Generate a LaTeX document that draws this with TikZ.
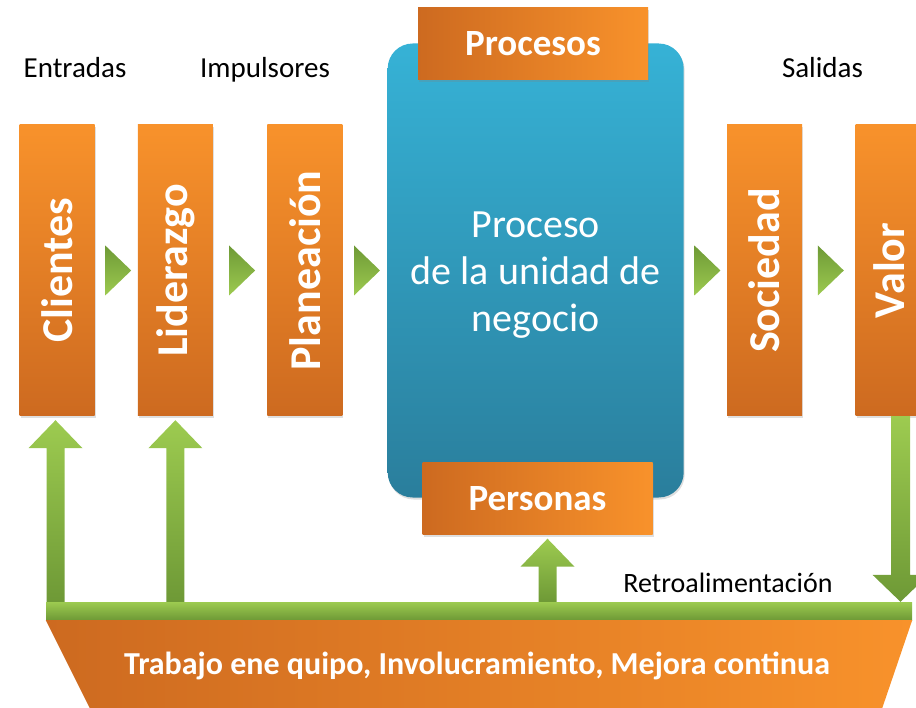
\documentclass[tikz,border=0pt]{standalone}
\usepackage{fontspec}
\setmainfont{Carlito}
\usetikzlibrary{positioning, calc, shadows}

\definecolor{naranjaclaro}{HTML}{F8922B}
\definecolor{naranjaoscuro}{HTML}{CD6A20}
\definecolor{azulclaro}{HTML}{36B2D6}
\definecolor{azuloscuro}{HTML}{2A7E9C}
\definecolor{verdeclaro}{HTML}{9DCB50}
\definecolor{verdeoscuro}{HTML}{6E9936}

% flecha de bloque desde la barra hasta el nodo #1 (desplazada #2)
\newcommand{\subir}[2]{%
  \shade[bloque] let \p1=($(#1.south)+(#2,0)$), \p2=(barra.north) in
    (\x1-9pt,\y2) -- (\x1-9pt,\y1-32pt) -- (\x1-27pt,\y1-32pt) -- (\x1,\y1-4pt)
    -- (\x1+27pt,\y1-32pt) -- (\x1+9pt,\y1-32pt) -- (\x1+9pt,\y2) -- cycle;}
% punta verde entre dos nodos
\newcommand{\pasa}[2]{%
  \shade[punta] let \p1=($(#1.east)!.5!(#2.west)$) in
    (\x1-11pt,\y1+25pt) -- (\x1+15pt,\y1) -- (\x1-11pt,\y1-25pt) -- cycle;}

\begin{document}
\begin{tikzpicture}[x=1pt, y=-1pt,
  sombra/.style={drop shadow={shadow xshift=1pt, shadow yshift=-2pt, opacity=.25}},
  caja/.style={rectangle, top color=naranjaclaro, bottom color=naranjaoscuro,
    minimum width=75pt, minimum height=291pt, inner sep=0pt, text=white,
    font=\bfseries\fontsize{44}{44}\selectfont, sombra},
  titulo/.style={rectangle, left color=naranjaoscuro, right color=naranjaclaro,
    minimum width=230pt, minimum height=72pt, inner sep=0pt, text=white,
    font=\bfseries\fontsize{37}{37}\selectfont, sombra},
  proceso/.style={rectangle, rounded corners=25pt, top color=azulclaro,
    bottom color=azuloscuro, minimum width=296pt, minimum height=454pt, sombra},
  rotulo/.style={font=\fontsize{29}{29}\selectfont, anchor=base},
  bloque/.style={top color=verdeclaro, bottom color=verdeoscuro},
  punta/.style={top color=verdeoscuro, bottom color=verdeclaro},
  node distance=43pt]

\useasboundingbox (0,0) rectangle (916,708);

\node[caja] (clientes) at (57,270.5) {\rotatebox{90}{Clientes}};
\node[caja, right=43pt of clientes] (liderazgo) {\rotatebox{90}{Liderazgo}};
\node[caja, right=54pt of liderazgo] (planeacion) {\rotatebox{90}{Planeación}};
\node[proceso, right=45pt of planeacion] (unidad) {};
\node[text=white, align=center, font=\fontsize{40}{47}\selectfont] (texto)
  at ($(unidad.center)+(0,5)$) {Proceso\\de la unidad de\\negocio};
\node[caja, right=43pt of unidad] (sociedad) {\rotatebox{90}{Sociedad}};
\node[caja, right=53pt of sociedad, minimum width=62pt] (valor)
  {\hspace*{6pt}\rotatebox{90}{Valor}};

\node[titulo] (procesos) at (533,44) {Procesos};
\node[titulo] (personas) at (537.5,498.5) {Personas};

\node[rotulo] (entradas) at (75,78) {Entradas};
\node[rotulo] (impulsores) at (265,78) {Impulsores};
\node[rotulo] (salidas) at (822.5,78) {Salidas};

\pasa{clientes}{liderazgo}
\pasa{liderazgo}{planeacion}
\pasa{planeacion}{unidad}
\pasa{unidad}{sociedad}
\pasa{sociedad}{valor}

% base y retroalimentacion
\node[rectangle, top color=verdeclaro, bottom color=verdeoscuro, minimum width=866pt,
  minimum height=18pt, inner sep=0pt] (barra) at (479,611) {};
\shade[left color=naranjaoscuro, right color=naranjaclaro]
  (barra.south west) -- (barra.south east) -- ++(-30,88) -- ($(barra.south west)+(44,88)$) -- cycle;
\node[rotulo, text=white, font=\bfseries\fontsize{32}{32}\selectfont] (lema) at (477,674)
  {Trabajo ene quipo, Involucramiento, Mejora continua};
\node[rotulo, font=\fontsize{28}{28}\selectfont] (retro) at (728,592) {Retroalimentación};

\subir{clientes}{-1.5}
\subir{liderazgo}{0}
\subir{personas}{10}

\shade[bloque] let \p1=($(valor.south)+(14,0)$), \p2=(barra.north) in
  (\x1-9.5pt,\y1) -- (\x1-9.5pt,\y2+27pt) -- (\x1-28pt,\y2+27pt) -- (\x1,\y2)
  -- (\x1+28pt,\y2+27pt) -- (\x1+9.5pt,\y2+27pt) -- (\x1+9.5pt,\y1) -- cycle;

\end{tikzpicture}
\end{document}
